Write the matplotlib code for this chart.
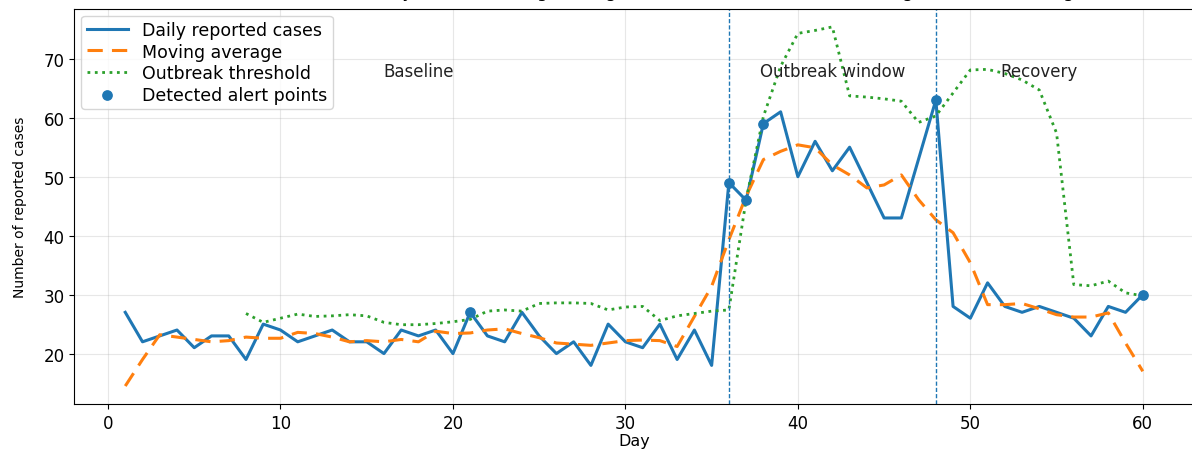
import matplotlib.pyplot as plt
import numpy as np

days = list(range(1, 61))

daily_cases = [27, 22, 23, 24, 21, 23, 23, 19, 25, 24,
               22, 23, 24, 22, 22, 20, 24, 23, 24, 20,
               27, 23, 22, 27, 23, 20, 22, 18, 25, 22,
               21, 25, 19, 24, 18, 49, 46, 59, 61, 50,
               56, 51, 55, 49, 43, 43, 53, 63, 28, 26,
               32, 28, 27, 28, 27, 26, 23, 28, 27, 30]

moving_avg = [14.5, 19.0, 23.2, 22.8, 22.4, 22.0, 22.2, 22.8, 22.6, 22.6,
              23.6, 23.4, 22.8, 22.0, 22.2, 22.0, 22.4, 22.0, 23.8, 23.4,
              23.5, 24.0, 24.2, 23.4, 22.7, 21.8, 21.6, 21.4, 21.8, 22.2,
              22.3, 22.2, 21.2, 26.3, 31.4, 39.3, 46.7, 52.9, 54.3, 55.4,
              54.9, 52.0, 50.3, 48.1, 48.6, 50.3, 46.1, 42.7, 40.5, 35.4,
              28.3, 28.3, 28.5, 27.6, 26.6, 26.2, 26.2, 26.9, 21.8, 17.0]

threshold_days = list(range(8, 61))
threshold = [26.8, 25.3, 26.0, 26.7, 26.3, 26.4, 26.6, 26.4, 25.3, 24.9,
             24.9, 25.1, 25.4, 25.8, 27.2, 27.4, 27.2, 28.5, 28.6, 28.6,
             28.5, 27.4, 27.9, 28.0, 25.6, 26.4, 26.8, 27.2, 27.4, 46.1,
             60.2, 68.7, 74.3, 74.8, 75.4, 63.7, 63.5, 63.2, 62.8, 59.2,
             60.3, 64.2, 68.1, 68.2, 67.5, 66.4, 64.7, 57.4, 31.7, 31.5,
             32.3, 30.3, 29.8]

alert_days = [21, 36, 37, 38, 48, 60]
alert_values = [daily_cases[d - 1] for d in alert_days]

outbreak_start, outbreak_end = 36, 48
phase_labels = ["Baseline", "Outbreak window", "Recovery"]
phase_x = [18, 42, 54]
phase_y = 68

fig = plt.figure(figsize=(11.92, 4.52), dpi=100)
ax = fig.add_axes([0.0624, 0.104, 0.939, 0.874])

ax.plot(days, daily_cases, color='C0', linewidth=2.2, label='Daily reported cases')
ax.plot(days, moving_avg, color='C1', linestyle='--', linewidth=2.2, dashes=(5, 3),
        label='Moving average')
ax.plot(threshold_days, threshold, color='C2', linestyle=':', linewidth=2,
        label='Outbreak threshold')
ax.scatter(alert_days, alert_values, color='C0', s=45, zorder=5,
           label='Detected alert points')

# Outbreak window boundaries
for d in (outbreak_start, outbreak_end):
    ax.axvline(d, color='C0', linestyle='--', linewidth=1, dashes=(3, 1.5))

for label, x in zip(phase_labels, phase_x):
    ax.text(x, phase_y, label, ha='center', va='center', fontsize=12, color='#222222')

ax.set_xlabel('Day', fontsize=11.5, labelpad=1)
ax.set_ylabel('Number of reported cases', fontsize=10, labelpad=12,
              family=['Liberation Sans Narrow', 'DejaVu Sans'])
ax.tick_params(labelsize=12)
ax.set_xlim(-1.95, 62.95)
ax.spines['right'].set_visible(False)
ax.grid(True, alpha=0.3)
ax.legend(loc='upper left', fontsize=12.5, borderaxespad=0.4, handlelength=2.4,
          labelspacing=0.2, borderpad=0.3)

ax.set_title('Disease surveillance: daily cases, moving average and outbreak detection (rolling window, alert logic)',
             fontsize=13, pad=9)

fig.savefig('out.png', dpi=100)
